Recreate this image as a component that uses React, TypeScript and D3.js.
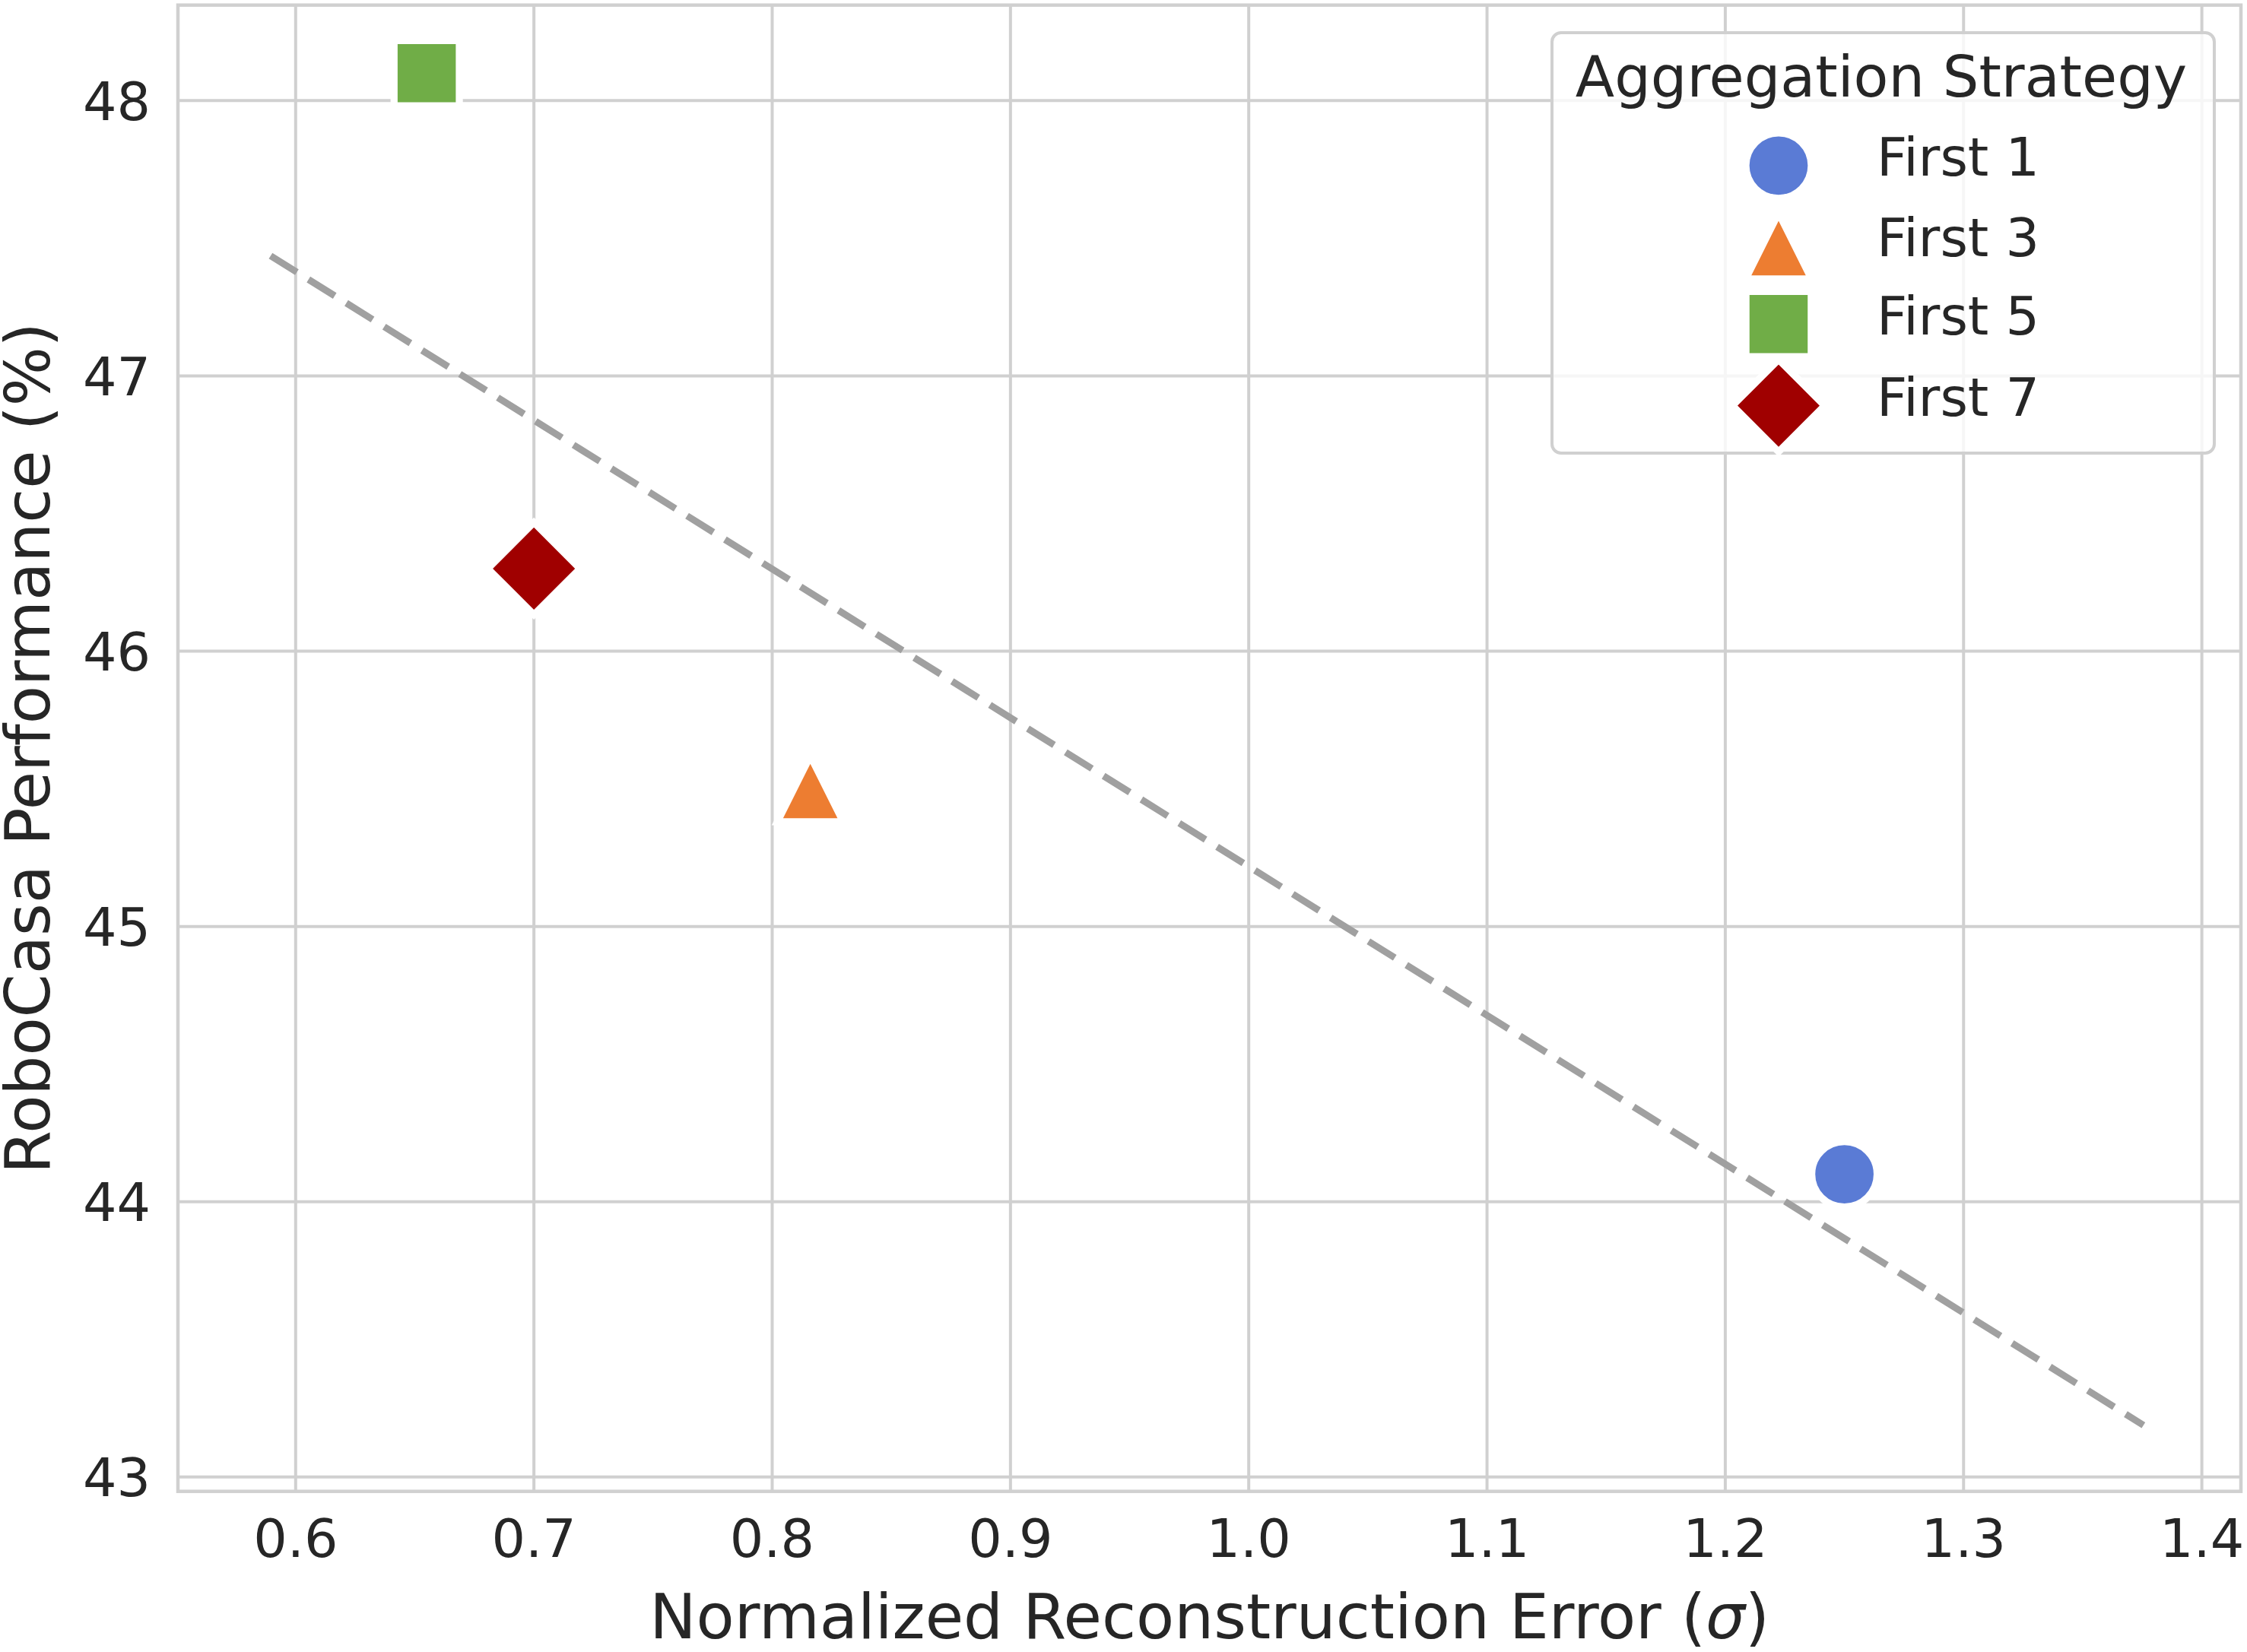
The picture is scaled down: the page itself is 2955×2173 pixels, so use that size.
import React from "react";
import * as d3 from "d3";

// ---- data ----
const strategies = ["First 1", "First 3", "First 5", "First 7"];
const reconError = [1.25, 0.816, 0.655, 0.7];
const performance = [44.1, 45.5, 48.1, 46.3];
const fitRange = [0.5895, 1.3755];
const xTicks = [0.6, 0.7, 0.8, 0.9, 1.0, 1.1, 1.2, 1.3, 1.4];
const yTicks = [43, 44, 45, 46, 47, 48];
const xDomain = [0.5506, 1.4164];
const yDomain = [42.948, 48.347];

// ---- styles ----
const colors = ["#5a7bd5", "#ed7d31", "#70ad47", "#a00000"];
const W = 2955;
const H = 2173;
const L = 234, R = 2947, T = 6.7, B = 1961.7;
const textColor = "#262626";
const gridColor = "#d0d0d0";
const FONT = "'DejaVu Sans', sans-serif";

const triangleUp = {
  draw(ctx: any, size: number) {
    const a = Math.sqrt(size) / 2;
    ctx.moveTo(0, -a);
    ctx.lineTo(a, a);
    ctx.lineTo(-a, a);
    ctx.closePath();
  },
};
const diamond = {
  draw(ctx: any, size: number) {
    const h = Math.sqrt(size) / 2;
    ctx.moveTo(0, -h);
    ctx.lineTo(h, 0);
    ctx.lineTo(0, h);
    ctx.lineTo(-h, 0);
    ctx.closePath();
  },
};
const markerTypes: any[] = [d3.symbolCircle, triangleUp, d3.symbolSquare, diamond];
const markerSizes = [Math.PI * 43 * 43, 86.6 * 86.6, 85.8 * 85.8, 121.2 * 121.2];

export default function App() {
  const x = d3.scaleLinear().domain(xDomain).range([L, R]);
  const y = d3.scaleLinear().domain(yDomain).range([B, T]);

  // least-squares fit
  const mx = d3.mean(reconError)!;
  const my = d3.mean(performance)!;
  let sxy = 0, sxx = 0;
  reconError.forEach((v, i) => {
    sxy += (v - mx) * (performance[i] - my);
    sxx += (v - mx) * (v - mx);
  });
  const slope = sxy / sxx;
  const icpt = my - slope * mx;
  const fitPts: [number, number][] = fitRange.map((v) => [v, icpt + slope * v]);
  const line = d3
    .line<[number, number]>()
    .x((d) => x(d[0]))
    .y((d) => y(d[1]));

  const sym = (i: number) => d3.symbol(markerTypes[i], markerSizes[i])()!;

  const legendY = [217.8, 323.5, 426.3, 533.6];

  return (
    <svg
      width={W}
      height={H}
      style={{ position: "absolute", left: 0, top: 0, background: "#fff" }}
      fontFamily={FONT}
    >
      <rect x={0} y={0} width={W} height={H} fill="#fff" />
      {/* grid */}
      {xTicks.map((t) => (
        <line key={"gx" + t} x1={x(t)} x2={x(t)} y1={T} y2={B} stroke={gridColor} strokeWidth={4} />
      ))}
      {yTicks.map((t) => (
        <line key={"gy" + t} x1={L} x2={R} y1={y(t)} y2={y(t)} stroke={gridColor} strokeWidth={4} />
      ))}
      {/* spines */}
      <rect x={L} y={T} width={R - L} height={B - T} fill="none" stroke={gridColor} strokeWidth={4.5} />

      {/* tick labels */}
      {xTicks.map((t) => (
        <text key={"tx" + t} x={x(t)} y={2048} fontSize={70} fill={textColor} textAnchor="middle">
          {d3.format(".1f")(t)}
        </text>
      ))}
      {yTicks.map((t) => (
        <text key={"ty" + t} x={198} y={y(t) + 25.5} fontSize={70} fill={textColor} textAnchor="end">
          {t}
        </text>
      ))}

      {/* axis labels */}
      <text x={(L + R) / 2} y={2155} fontSize={82} fill={textColor} textAnchor="middle">
        Normalized Reconstruction Error (<tspan fontStyle="italic">σ</tspan>)
      </text>
      <text
        transform={`translate(65, ${(T + B) / 2}) rotate(-90)`}
        fontSize={82}
        fill={textColor}
        textAnchor="middle"
      >
        RoboCasa Performance (%)
      </text>

      {/* fit line */}
      <path
        d={line(fitPts)!}
        fill="none"
        stroke="#a0a0a0"
        strokeWidth={9}
        strokeDasharray="40.7 18"
      />

      {/* markers */}
      {strategies.map((s, i) => (
        <path
          key={"m" + s}
          d={sym(i)}
          transform={`translate(${x(reconError[i])}, ${y(performance[i])})`}
          fill={colors[i]}
          stroke="#fff"
          strokeWidth={9.3}
          strokeLinejoin="miter"
        />
      ))}

      {/* legend */}
      <rect
        x={2041}
        y={43}
        width={871}
        height={553}
        rx={12}
        fill="#fff"
        fillOpacity={0.8}
        stroke={gridColor}
        strokeWidth={4}
      />
      <text x={2474} y={126.6} fontSize={75} fill={textColor} textAnchor="middle">
        Aggregation Strategy
      </text>
      {strategies.map((s, i) => (
        <g key={"lg" + s}>
          <path
            d={sym(i)}
            transform={`translate(2339, ${legendY[i]})`}
            fill={colors[i]}
            stroke="#fff"
            strokeWidth={9.3}
          />
          <text x={2468} y={legendY[i] + 13.5} fontSize={70} fill={textColor}>
            {s}
          </text>
        </g>
      ))}
    </svg>
  );
}
